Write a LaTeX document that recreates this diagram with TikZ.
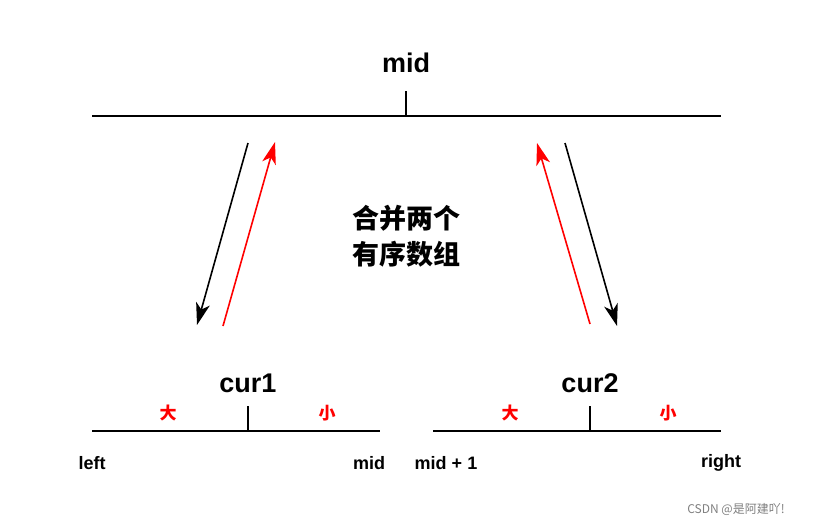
\documentclass[tikz,border=0pt]{standalone}
\usepackage{fontspec}
\setmainfont{Liberation Sans}
\newfontfamily\cjk{Noto Sans CJK SC}
\usetikzlibrary{arrows.meta}
\tikzset{
  bar/.style={line width=2pt},
  link/.style={line width=1.6pt,-{Stealth[length=22pt,width=14pt,inset=6pt]}},
  lbl/.style={font=\bfseries\fontsize{18}{22}\selectfont},
  big/.style={font=\bfseries\fontsize{27}{32}\selectfont},
  side/.style={red,font=\cjk\bfseries\fontsize{17}{20}\selectfont}
}
\begin{document}
\begin{tikzpicture}[x=1pt,y=-1pt]
\useasboundingbox[fill=white] (0,0) rectangle (821,525);

% top array
\coordinate (tl) at (92,116);
\coordinate (tr) at (721,116);
\coordinate (tm) at (406,116);
\draw[bar] (tl) -- (tr);
\draw[bar] (tm) -- ++(0,-25);
\node[big] (mid) at (406,63) {mid};

% bottom arrays
\coordinate (al) at (92,431);
\coordinate (ar) at (380,431);
\coordinate (am) at (248,431);
\coordinate (bl) at (433,431);
\coordinate (br) at (721,431);
\coordinate (bm) at (590,431);
\draw[bar] (al) -- (ar);
\draw[bar] (am) -- ++(0,-25);
\draw[bar] (bl) -- (br);
\draw[bar] (bm) -- ++(0,-25);
\node[big] (cur1) at (248,383) {cur1};
\node[big] (cur2) at (590,383) {cur2};
\node[side] (big1) at (168,413) {大};
\node[side] (small1) at (327,413) {小};
\node[side] (big2) at (510,413) {大};
\node[side] (small2) at (668,413) {小};
\node[lbl] (left) at (92,463) {left};
\node[lbl] (mida) at (369,463) {mid};
\node[lbl] (midb) at (446,463) {mid + 1};
\node[lbl] (right) at (721,463) {right};

% split and merge
\coordinate (s1) at (248,143);
\coordinate (e1) at (197,325);
\coordinate (s2) at (223,326);
\coordinate (e2) at (275,142);
\coordinate (s3) at (590,324);
\coordinate (e3) at (537,143);
\coordinate (s4) at (565,143);
\coordinate (e4) at (617,326);
\draw[link] (s1) -- (e1);
\draw[link,red] (s2) -- (e2);
\draw[link,red] (s3) -- (e3);
\draw[link] (s4) -- (e4);

\node[font=\cjk\bfseries\fontsize{27}{36}\selectfont,align=center] (merge) at (406,236) {合并两个\\有序数组};

\node[gray,font=\cjk\fontsize{12}{14}\selectfont] (mark) at (736,509) {CSDN @是阿建吖!};
\end{tikzpicture}
\end{document}
